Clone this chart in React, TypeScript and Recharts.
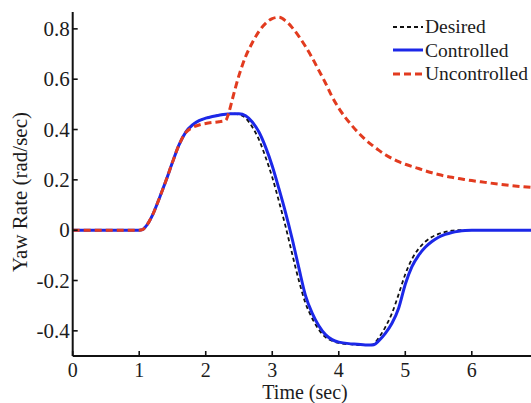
import { LineChart, Line, XAxis, YAxis, Legend } from 'recharts'

// simulation time (s) and yaw rate (rad/sec) for each response
const time = [
  0, 0.5, 1.0, 1.05, 1.1, 1.2, 1.3, 1.4, 1.5, 1.6, 1.7, 1.8, 1.9, 2.0, 2.1, 2.2, 2.3, 2.35,
  2.4, 2.5, 2.6, 2.7, 2.8, 2.9, 3.0, 3.1, 3.2, 3.3, 3.4, 3.5, 3.6, 3.7, 3.8, 3.9, 4.0,
  4.2, 4.4, 4.5, 4.55, 4.6, 4.7, 4.8, 4.9, 5.0, 5.1, 5.2, 5.3, 5.4, 5.5, 5.6, 5.7, 5.8, 5.9, 6.0,
  6.2, 6.4, 6.6, 6.89,
]

const desired = [
  0, 0, 0, 0.002, 0.015, 0.06, 0.125, 0.195, 0.27, 0.34, 0.39, 0.418, 0.435, 0.445, 0.452, 0.457, 0.461, 0.462,
  0.463, 0.46, 0.445, 0.41, 0.36, 0.29, 0.21, 0.115, 0.015, -0.095, -0.2, -0.29, -0.35, -0.395, -0.425, -0.44, -0.448,
  -0.454, -0.457, -0.455, -0.445, -0.428, -0.385, -0.33, -0.255, -0.175, -0.115, -0.074, -0.046, -0.027, -0.015, -0.007, -0.002, 0, 0, 0,
  0, 0, 0, 0,
]

const controlled = [
  0, 0, 0, 0.002, 0.015, 0.06, 0.125, 0.195, 0.27, 0.34, 0.39, 0.418, 0.435, 0.445, 0.452, 0.457, 0.461, 0.462,
  0.463, 0.463, 0.455, 0.43, 0.39, 0.33, 0.255, 0.165, 0.07, -0.035, -0.15, -0.26, -0.33, -0.38, -0.415, -0.435, -0.445,
  -0.452, -0.456, -0.456, -0.452, -0.44, -0.41, -0.37, -0.31, -0.215, -0.145, -0.1, -0.068, -0.045, -0.028, -0.017, -0.009, -0.004, -0.001, 0,
  0, 0, 0, 0,
]

const uncontrolled = [
  0, 0, 0, 0.002, 0.015, 0.06, 0.125, 0.195, 0.27, 0.34, 0.388, 0.408, 0.418, 0.424, 0.428, 0.431, 0.436, 0.47,
  0.52, 0.615, 0.69, 0.745, 0.79, 0.822, 0.841, 0.846, 0.832, 0.805, 0.77, 0.73, 0.685, 0.635, 0.585, 0.53, 0.485,
  0.415, 0.36, 0.338, 0.328, 0.318, 0.3, 0.285, 0.272, 0.262, 0.253, 0.245, 0.236, 0.228, 0.221, 0.215, 0.21, 0.205, 0.201, 0.197,
  0.19, 0.183, 0.177, 0.17,
]

const xTicks = [0, 1, 2, 3, 4, 5, 6]
const yTicks = [-0.4, -0.2, 0, 0.2, 0.4, 0.6, 0.8]

const data = time.map((t, i) => ({
  t,
  desired: desired[i],
  controlled: controlled[i],
  uncontrolled: uncontrolled[i],
}))

const SERIF = 'Liberation Serif, DejaVu Serif, serif'
const INK = '#1c1c1c'
const AXIS = '#111'

const SERIES = [
  { key: 'desired', name: 'Desired', color: '#111', width: 1.8, dash: '4 3' },
  { key: 'controlled', name: 'Controlled', color: '#1c28e8', width: 3, dash: undefined },
  { key: 'uncontrolled', name: 'Uncontrolled', color: '#e23b1f', width: 3, dash: '7 4' },
]

// ticks point inward, MATLAB style
function BottomTick({ x, y, payload }: any) {
  return (
    <g>
      <line x1={x} y1={y} x2={x} y2={y - 5} stroke={AXIS} strokeWidth={1.6} />
      <text x={x} y={y + 20.5} textAnchor="middle" style={{ fontFamily: SERIF, fontSize: 20 }} fill={INK}>
        {payload.value}
      </text>
    </g>
  )
}

function TopTick({ x, y }: any) {
  return <line x1={x} y1={y} x2={x} y2={y + 5} stroke={AXIS} strokeWidth={1.6} />
}

function LeftTick({ x, y, payload }: any) {
  const v = payload.value
  return (
    <g>
      <line x1={x} y1={y} x2={x + 5} y2={y} stroke={AXIS} strokeWidth={1.6} />
      <text x={x - 3} y={y + 7} textAnchor="end" style={{ fontFamily: SERIF, fontSize: 21 }} fill={INK}>
        {v === 0 ? '0' : v.toFixed(1)}
      </text>
    </g>
  )
}

function LegendBox() {
  return (
    <div style={{ fontFamily: SERIF, fontSize: 19.5, color: INK }}>
      {SERIES.map(s => (
        <div key={s.key} style={{ display: 'flex', alignItems: 'center', height: 23.5 }}>
          <svg width={32} height={8}>
            <line x1={1} y1={4} x2={31} y2={4} stroke={s.color} strokeWidth={s.width} strokeDasharray={s.dash} />
          </svg>
          <span style={{ marginLeft: 1, lineHeight: '23.5px' }}>{s.name}</span>
        </div>
      ))}
    </div>
  )
}

export default function App() {
  return (
    <div style={{ position: 'absolute', left: 0, top: 0, width: 531, height: 403, background: '#fff' }}>
      <LineChart width={531} height={403} data={data} margin={{ top: 12, right: 0, bottom: 0, left: 0 }}>
        <XAxis
          dataKey="t"
          type="number"
          domain={[0, 6.89]}
          ticks={xTicks}
          allowDataOverflow
          height={47}
          tickSize={0}
          tickMargin={0}
          tickLine={false}
          tick={<BottomTick />}
          axisLine={{ stroke: AXIS, strokeWidth: 2 }}
        />
        <XAxis
          xAxisId="top"
          orientation="top"
          dataKey="t"
          type="number"
          domain={[0, 6.89]}
          ticks={xTicks}
          allowDataOverflow
          height={0}
          tickSize={0}
          tickMargin={0}
          tickLine={false}
          tick={<TopTick />}
          axisLine={{ stroke: AXIS, strokeWidth: 2 }}
        />
        <YAxis
          type="number"
          domain={[-0.5, 0.867]}
          ticks={yTicks}
          allowDataOverflow
          width={72.7}
          tickSize={0}
          tickMargin={0}
          tickLine={false}
          tick={<LeftTick />}
          axisLine={{ stroke: AXIS, strokeWidth: 2 }}
        />
        {SERIES.map(s => (
          <Line
            key={s.key}
            dataKey={s.key}
            name={s.name}
            type="monotone"
            stroke={s.color}
            strokeWidth={s.width}
            strokeDasharray={s.dash}
            dot={false}
            activeDot={false}
            isAnimationActive={false}
          />
        ))}
        <Legend
          layout="horizontal"
          verticalAlign="middle"
          align="center"
          content={<LegendBox />}
          wrapperStyle={{ top: 15, left: 392, width: 139, height: 72 }}
        />
        <text x={305} y={398.5} textAnchor="middle" style={{ fontFamily: SERIF, fontSize: 20 }} fill={INK}>
          Time (sec)
        </text>
        <text
          x={27}
          y={192}
          transform="rotate(-90, 27, 192)"
          textAnchor="middle"
          style={{ fontFamily: SERIF, fontSize: 21 }}
          fill={INK}
        >
          Yaw Rate (rad/sec)
        </text>
      </LineChart>
    </div>
  )
}
